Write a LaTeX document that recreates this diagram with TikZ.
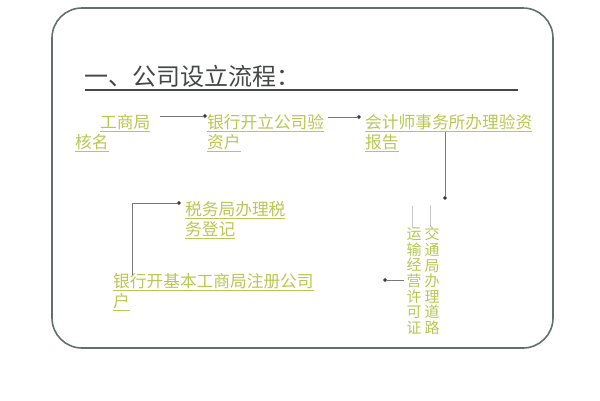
\documentclass[tikz,border=0pt]{standalone}
\usepackage{fontspec}
\newfontfamily\cjk{Noto Sans CJK SC}
\usetikzlibrary{arrows.meta}
\definecolor{tg}{RGB}{184,200,82}
\definecolor{titlegray}{RGB}{70,72,72}
\definecolor{framegray}{RGB}{100,112,106}
\definecolor{conngray}{RGB}{120,120,120}
\tikzset{
  txt/.style={anchor=north west, inner sep=0pt, align=left, text=tg,
    font=\cjk\fontsize{16.7}{20}\selectfont},
  vtxt/.style={inner sep=0pt, align=center, text=tg,
    font=\cjk\fontsize{15}{15.6}\selectfont},
  conn/.style={draw=conngray, line width=0.8pt, -{Circle[length=4.2pt,fill=black]}},
  faint/.style={draw=gray!45, line width=0.6pt}
}
\begin{document}
\begin{tikzpicture}[x=1pt,y=-1pt]
\useasboundingbox (0,0) rectangle (600,400);
\fill[white] (0,0) rectangle (600,400);
% frame
\draw[framegray, line width=1.6pt, rounded corners=30pt] (52,8) rectangle (553,348);
% title
\node[anchor=west, inner sep=0pt, text=titlegray, font=\cjk\fontsize{24}{28}\selectfont] (title) at (84,76) {一、公司设立流程：};
\draw[titlegray, line width=2pt] (85,90) -- (518,90);
% nodes
\node[txt] (n1) at (75,114) {\hspace*{25pt}\underline{工商局}\\\underline{核名}};
\node[txt] (n2) at (207,114) {\underline{银行开立公司验}\\\underline{资户}};
\node[txt] (n3) at (365,114) {\underline{会计师事务所办理验资}\\\underline{报告}};
\node[vtxt] (v1) at (432,281) {交\\通\\局\\办\\理\\道\\路};
\node[vtxt] (v2) at (414,281) {运\\输\\经\\营\\许\\可\\证};
\node[txt] (n6) at (185,201) {\underline{税务局办理税}\\\underline{务登记}};
\node[txt] (n5) at (113,273) {\underline{银行开基本工商局注册公司}\\\underline{户}};
% faint marks above vertical text
\draw[faint] ([xshift=-2pt]v2.north) -- ++(0,-22);
\draw[faint] ([xshift=-2pt]v1.north) -- ++(0,-22);
% free ends
\coordinate (c3e) at (445,200);
\coordinate (c4e) at (383,280);
% connectors
\draw[conn] ([shift={(9,2)}]n1.north east) -- ([shift={(0,2)}]n2.north west);
\draw[conn] ([shift={(4,3)}]n2.north east) -- ([shift={(-4,3)}]n3.north west);
\draw[conn] ([shift={(80,18)}]n3.north west) -- (c3e);
\draw[conn] ([shift={(-2,-1)}]v2.west) -- (c4e);
\draw[conn] ([shift={(19,2)}]n5.north west) |- ([shift={(-4,2)}]n6.north west);
\end{tikzpicture}
\end{document}
